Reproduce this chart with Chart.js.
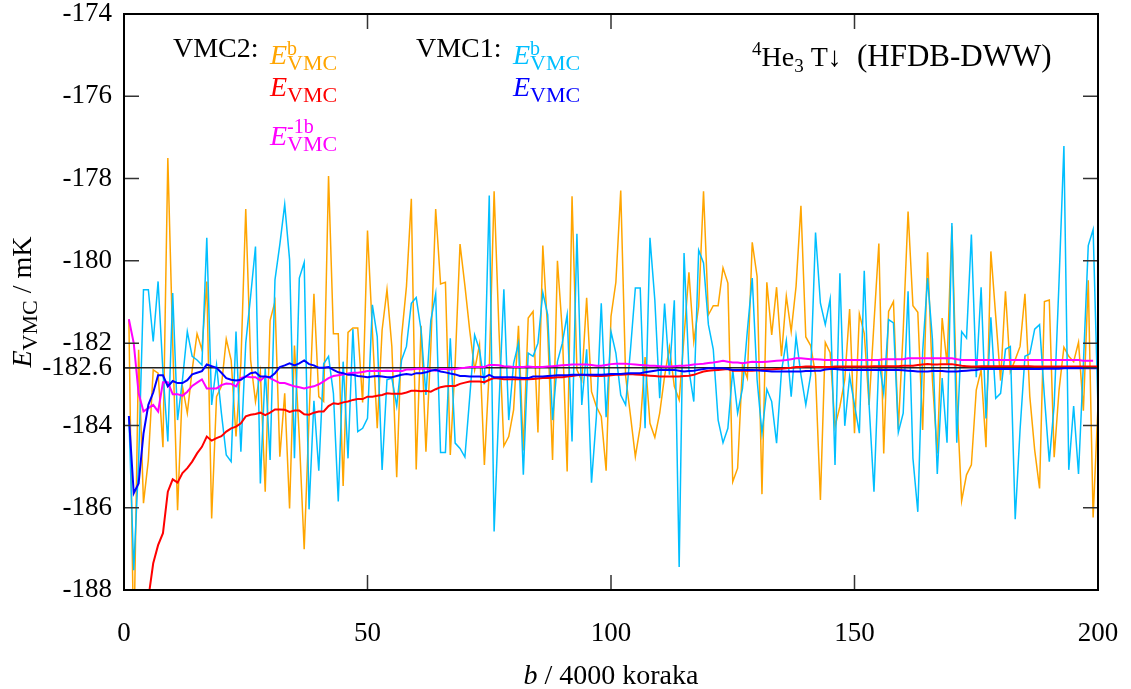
<!DOCTYPE html>
<html>
<head>
<meta charset="utf-8">
<script src="https://cdn.jsdelivr.net/npm/chart.js@4.4.1/dist/chart.umd.min.js"></script>
<style>
  html, body { margin: 0; padding: 0; background: #fff; }
  #wrap { width: 1131px; height: 689px; }
</style>
</head>
<body>
<div id="wrap"><canvas id="energyChart" width="1131" height="689"></canvas></div>
<script>
'use strict';

// x ticks and y ticks (b / 4000 koraka, E / mK)
var xTicks = [0, 50, 100, 150, 200];
var yTicks = [-174, -176, -178, -180, -182, -182.6, -184, -186, -188];
var refLevel = -182.6;

// VMC2 E^b (orange), starts at b = 1
var vmc2Block = [
  -181.42, -189.5, -182.16, -185.89, -184.84, -182.65, -182.73, -184.53, -177.50, -182.0,
  -186.06, -183.05, -183.70, -182.65, -181.77, -182.16, -180.50, -186.26, -183.30, -183.05,
  -181.90, -182.41, -184.27, -182.5, -178.74, -182.41, -183.42, -182.7, -185.61, -181.45,
  -180.99, -184.76, -183.22, -186.02, -182.06, -184.3, -187.01, -183.8, -180.80, -183.30,
  -183.42, -177.94, -181.77, -181.77, -185.47, -181.74, -181.63, -181.63, -183.44, -179.26,
  -181.7, -184.07, -181.68, -180.70, -182.08, -185.26, -181.84, -180.62, -178.49, -185.07,
  -181.58, -184.64, -182.1, -178.74, -180.56, -180.52, -184.72, -182.5, -179.59, -180.6,
  -181.7, -182.65, -182.04, -184.96, -182.65, -178.31, -181.7, -184.50, -184.27, -183.62,
  -181.58, -184.61, -181.39, -181.23, -184.17, -179.63, -181.7, -184.84, -180.00, -181.7,
  -185.12, -178.43, -182.65, -182.91, -180.90, -183.18, -183.54, -183.78, -185.10, -181.35,
  -180.52, -178.29, -182.8, -183.76, -184.76, -184.03, -182.34, -183.95, -184.29, -183.70,
  -182.81, -182.10, -183.05, -183.38, -181.84, -180.28, -181.96, -181.11, -178.31, -181.31,
  -181.09, -181.09, -180.17, -180.54, -185.37, -185.04, -182.53, -182.85, -179.55, -180.38,
  -185.67, -180.52, -181.80, -180.64, -182.32, -180.86, -181.72, -180.62, -178.66, -181.85,
  -182.06, -182.77, -185.81, -181.98, -182.23, -184.03, -183.54, -182.89, -181.17, -184.19,
  -181.29, -181.76, -183.50, -181.51, -179.58, -184.68, -181.23, -180.99, -184.09, -181.7,
  -178.80, -181.09, -181.25, -184.11, -179.79, -182.9, -184.68, -181.39, -182.5, -179.16,
  -183.3, -185.83, -185.20, -184.96, -183.14, -182.65, -184.53, -179.77, -181.35, -182.91,
  -180.74, -182.7, -182.4, -182.08, -180.80, -183.3, -184.60, -185.53, -180.99, -180.95,
  -184.77, -183.14, -182.10, -182.32, -182.45, -181.98, -183.64, -180.47, -186.24, -183.5
];

// VMC1 E^b (light blue), starts at b = 1
var vmc1Block = [
  -183.77, -187.52, -184.9, -180.70, -180.70, -181.96, -180.50, -182.7, -184.39, -180.78,
  -183.87, -182.9, -181.72, -182.32, -182.41, -182.53, -179.44, -183.50, -182.53, -183.70,
  -184.72, -184.88, -181.72, -184.64, -182.00, -180.86, -179.65, -185.41, -182.61, -184.84,
  -180.46, -179.6, -178.63, -179.97, -184.80, -180.42, -180.04, -186.04, -183.40, -185.10,
  -182.5, -182.32, -183.22, -185.85, -182.45, -184.80, -181.66, -184.15, -184.07, -183.83,
  -181.07, -181.84, -185.08, -182.89, -182.85, -183.53, -182.41, -182.08, -181.03, -180.89,
  -181.68, -183.26, -181.45, -180.80, -184.66, -184.66, -181.88, -184.43, -184.56, -184.77,
  -183.30, -181.80, -182.16, -183.0, -178.41, -186.58, -183.5, -180.69, -183.87, -182.49,
  -182.0, -185.20, -182.24, -182.32, -182.00, -180.77, -181.31, -183.87, -182.45, -182.00,
  -181.31, -184.39, -179.34, -183.50, -182.15, -185.39, -183.78, -181.03, -183.80, -181.72,
  -182.24, -183.26, -183.50, -182.16, -180.66, -180.66, -184.07, -179.44, -180.95, -183.34,
  -181.04, -182.77, -180.96, -187.44, -179.81, -182.65, -183.42, -179.74, -180.05, -181.55,
  -182.15, -183.87, -184.42, -184.07, -182.65, -183.70, -183.1, -181.7, -180.42, -182.89,
  -184.19, -183.12, -183.42, -184.43, -182.69, -181.94, -183.30, -181.84, -182.77, -183.50,
  -182.77, -179.31, -181.03, -181.55, -180.93, -184.96, -180.30, -184.01, -182.81, -183.5,
  -184.19, -180.24, -183.50, -185.61, -182.41, -183.22, -181.43, -181.51, -184.17, -183.70,
  -180.74, -184.80, -186.10, -182.2, -180.42, -181.9, -185.18, -182.85, -184.42, -179.08,
  -184.42, -181.72, -181.88, -179.36, -182.83, -180.64, -183.83, -181.37, -183.34, -183.22,
  -182.15, -182.08, -186.28, -184.1, -182.32, -182.26, -181.66, -181.55, -183.3, -184.88,
  -183.5, -180.5, -177.21, -185.08, -183.53, -185.18, -182.5, -179.63, -179.24, -183.6
];

// VMC2 E (red), starts at b = 3
var vmc2Energy = [
  -191.0, -189.4,
  -188.2, -187.35, -186.91, -186.62, -185.61, -185.31, -185.39, -185.16, -185.04, -184.88,
  -184.68, -184.52, -184.27, -184.37, -184.31, -184.26, -184.15, -184.07, -184.03, -183.95,
  -183.78, -183.74, -183.72, -183.69, -183.75, -183.69, -183.61, -183.61, -183.62, -183.67,
  -183.64, -183.64, -183.73, -183.74, -183.69, -183.66, -183.66, -183.53, -183.46, -183.48,
  -183.44, -183.42, -183.38, -183.36, -183.36, -183.30, -183.30, -183.28, -183.26, -183.22,
  -183.23, -183.23, -183.23, -183.20, -183.16, -183.16, -183.17, -183.16, -183.18, -183.12,
  -183.07, -183.05, -183.04, -183.04, -182.99, -182.96, -182.93, -182.93, -182.93, -182.95,
  -182.89, -182.85, -182.86, -182.88, -182.88, -182.88, -182.88, -182.88, -182.88, -182.87,
  -182.86, -182.85, -182.85, -182.84, -182.83, -182.83, -182.81, -182.80, -182.78, -182.77,
  -182.78, -182.79, -182.80, -182.80, -182.79, -182.78, -182.77, -182.77, -182.76, -182.75,
  -182.76, -182.77, -182.78, -182.79, -182.80, -182.81, -182.81, -182.81, -182.81, -182.81,
  -182.80, -182.79, -182.77, -182.73, -182.69, -182.67, -182.66, -182.65, -182.64, -182.63,
  -182.67, -182.67, -182.67, -182.67, -182.67, -182.66, -182.65, -182.64, -182.64, -182.63,
  -182.62, -182.61, -182.60, -182.58, -182.58, -182.57, -182.57, -182.58, -182.58, -182.58,
  -182.58, -182.57, -182.57, -182.57, -182.57, -182.57, -182.57, -182.57, -182.57, -182.56,
  -182.56, -182.56, -182.56, -182.56, -182.56, -182.55, -182.55, -182.55, -182.53, -182.52,
  -182.51, -182.52, -182.52, -182.51, -182.51, -182.51, -182.53, -182.55, -182.56, -182.57,
  -182.57, -182.56, -182.56, -182.56, -182.56, -182.56, -182.56, -182.56, -182.56, -182.56,
  -182.56, -182.56, -182.57, -182.57, -182.57, -182.57, -182.57, -182.57, -182.57, -182.57,
  -182.57, -182.57, -182.57, -182.57, -182.57, -182.57
];

// VMC1 E (blue), starts at b = 1
var vmc1Energy = [
  -183.77, -185.65, -185.41, -184.2, -183.5, -183.2, -182.78, -182.78, -183.05, -182.92,
  -182.97, -182.97, -182.9, -182.76, -182.72, -182.68, -182.52, -182.56, -182.6, -182.72,
  -182.85, -182.89, -182.91, -182.89, -182.81, -182.73, -182.71, -182.81, -182.81, -182.83,
  -182.73, -182.58, -182.54, -182.49, -182.54, -182.49, -182.42, -182.51, -182.54, -182.60,
  -182.60, -182.58, -182.65, -182.71, -182.73, -182.77, -182.77, -182.80, -182.81, -182.83,
  -182.81, -182.80, -182.81, -182.83, -182.83, -182.80, -182.77, -182.75, -182.77, -182.73,
  -182.73, -182.71, -182.67, -182.65, -182.69, -182.71, -182.74, -182.76, -182.80, -182.80,
  -182.81, -182.81, -182.81, -182.83, -182.77, -182.83, -182.83, -182.83, -182.83, -182.83,
  -182.84, -182.85, -182.85, -182.81, -182.81, -182.81, -182.80, -182.79, -182.78, -182.78,
  -182.78, -182.77, -182.77, -182.77, -182.77, -182.77, -182.77, -182.77, -182.76, -182.75,
  -182.75, -182.75, -182.74, -182.73, -182.73, -182.73, -182.71, -182.69, -182.67, -182.65,
  -182.65, -182.65, -182.65, -182.67, -182.69, -182.68, -182.67, -182.65, -182.63, -182.61,
  -182.61, -182.61, -182.61, -182.63, -182.65, -182.65, -182.65, -182.65, -182.65, -182.66,
  -182.67, -182.68, -182.69, -182.69, -182.69, -182.69, -182.69, -182.69, -182.69, -182.68,
  -182.68, -182.67, -182.67, -182.64, -182.63, -182.63, -182.64, -182.65, -182.65, -182.65,
  -182.65, -182.65, -182.65, -182.65, -182.65, -182.65, -182.65, -182.65, -182.65, -182.66,
  -182.67, -182.68, -182.69, -182.69, -182.69, -182.68, -182.68, -182.68, -182.69, -182.69,
  -182.69, -182.68, -182.67, -182.66, -182.65, -182.63, -182.63, -182.63, -182.63, -182.63,
  -182.63, -182.63, -182.63, -182.63, -182.63, -182.63, -182.63, -182.63, -182.62, -182.62,
  -182.62, -182.62, -182.61, -182.61, -182.61, -182.61, -182.61, -182.61, -182.61, -182.61
];

// VMC2 E^-1b (magenta), starts at b = 1
var vmc2Minus = [
  -181.42, -182.0, -183.22, -183.66, -183.58, -183.5, -183.66, -182.95, -182.95, -183.24,
  -183.24, -183.28, -183.18, -183.04, -182.96, -182.88, -183.1, -183.1, -183.1, -183.02,
  -182.98, -182.99, -183.05, -182.85, -182.81, -182.83, -182.83, -182.91, -182.81, -182.85,
  -182.91, -182.97, -182.97, -183.01, -183.05, -183.07, -183.10, -183.07, -183.05, -183.0,
  -182.93, -182.85, -182.80, -182.78, -182.76, -182.74, -182.72, -182.72, -182.70, -182.68,
  -182.68, -182.67, -182.68, -182.67, -182.68, -182.67, -182.68, -182.64, -182.64, -182.62,
  -182.62, -182.62, -182.65, -182.67, -182.63, -182.63, -182.64, -182.63, -182.61, -182.60,
  -182.58, -182.58, -182.58, -182.58, -182.53, -182.53, -182.54, -182.56, -182.57, -182.58,
  -182.58, -182.58, -182.57, -182.58, -182.58, -182.58, -182.57, -182.56, -182.55, -182.54,
  -182.53, -182.52, -182.52, -182.52, -182.52, -182.53, -182.55, -182.55, -182.53, -182.51,
  -182.50, -182.50, -182.50, -182.51, -182.52, -182.53, -182.54, -182.55, -182.55, -182.56,
  -182.57, -182.57, -182.56, -182.55, -182.55, -182.54, -182.52, -182.51, -182.50, -182.48,
  -182.47, -182.45, -182.43, -182.45, -182.47, -182.47, -182.49, -182.47, -182.45, -182.46,
  -182.46, -182.45, -182.44, -182.43, -182.42, -182.41, -182.39, -182.37, -182.37, -182.38,
  -182.39, -182.39, -182.40, -182.41, -182.41, -182.41, -182.41, -182.41, -182.41, -182.41,
  -182.41, -182.41, -182.41, -182.41, -182.41, -182.39, -182.39, -182.39, -182.39, -182.39,
  -182.37, -182.37, -182.37, -182.37, -182.37, -182.37, -182.37, -182.37, -182.37, -182.37,
  -182.39, -182.41, -182.41, -182.41, -182.41, -182.41, -182.41, -182.41, -182.41, -182.41,
  -182.41, -182.41, -182.41, -182.41, -182.41, -182.41, -182.41, -182.41, -182.41, -182.41,
  -182.41, -182.41, -182.41, -182.41, -182.41, -182.41, -182.43, -182.43, -182.43
];

var SERIF = "'Liberation Serif', 'Times New Roman', serif";

function toPoints(values, firstB) {
  return values.map(function(v, i) { return { x: firstB + i, y: v }; });
}

// draws a run of text pieces; pieces with hold=true do not advance (super over sub)
function rich(ctx, x, y, parts) {
  parts.forEach(function(p) {
    ctx.font = (p.i ? 'italic ' : '') + p.s + 'px ' + SERIF;
    ctx.fillStyle = p.c || '#000';
    ctx.fillText(p.t, x, y + (p.dy || 0));
    if (!p.hold) x += ctx.measureText(p.t).width;
  });
  return x;
}

function richWidth(ctx, parts) {
  var w = 0;
  parts.forEach(function(p) {
    ctx.font = (p.i ? 'italic ' : '') + p.s + 'px ' + SERIF;
    if (!p.hold) w += ctx.measureText(p.t).width;
  });
  return w;
}

// keep the plot frame where the layout padding puts it
function noOverhang(scale) {
  scale.paddingTop = 0;
  scale.paddingBottom = 0;
  scale.paddingLeft = 0;
  scale.paddingRight = 0;
}

var frame = {
  id: 'frame',
  afterDraw: function(chart) {
    var ctx = chart.ctx;
    var a = chart.chartArea;
    var xs = chart.scales.x;
    var ys = chart.scales.y;
    var tl = 15;

    ctx.save();
    ctx.strokeStyle = '#333';
    ctx.lineWidth = 1.5;
    ctx.beginPath();
    yTicks.forEach(function(v) {
      var py = ys.getPixelForValue(v);
      ctx.moveTo(a.left, py); ctx.lineTo(a.left + tl, py);
      ctx.moveTo(a.right, py); ctx.lineTo(a.right - tl, py);
    });
    xTicks.forEach(function(v) {
      var px = xs.getPixelForValue(v);
      ctx.moveTo(px, a.bottom); ctx.lineTo(px, a.bottom - tl);
      ctx.moveTo(px, a.top); ctx.lineTo(px, a.top + tl);
    });
    ctx.stroke();

    ctx.strokeStyle = '#000';
    ctx.lineWidth = 2;
    ctx.strokeRect(a.left, a.top, a.right - a.left, a.bottom - a.top);

    ctx.textAlign = 'left';
    ctx.textBaseline = 'alphabetic';

    // key
    rich(ctx, 173, 57, [{ t: 'VMC2:', s: 28 }]);
    rich(ctx, 270, 64, [
      { t: 'E', s: 28, i: true, c: '#ffa500' },
      { t: 'b', s: 20, dy: -9, c: '#ffa500', hold: true },
      { t: 'VMC', s: 22, dy: 6, c: '#ffa500' }
    ]);
    rich(ctx, 270, 96, [
      { t: 'E', s: 28, i: true, c: '#ff0000' },
      { t: 'VMC', s: 22, dy: 6, c: '#ff0000' }
    ]);
    rich(ctx, 270, 145, [
      { t: 'E', s: 28, i: true, c: '#ff00ff' },
      { t: '-1b', s: 20, dy: -12, c: '#ff00ff', hold: true },
      { t: 'VMC', s: 22, dy: 6, c: '#ff00ff' }
    ]);
    rich(ctx, 416, 57, [{ t: 'VMC1:', s: 28 }]);
    rich(ctx, 513, 64, [
      { t: 'E', s: 28, i: true, c: '#00bfff' },
      { t: 'b', s: 20, dy: -9, c: '#00bfff', hold: true },
      { t: 'VMC', s: 22, dy: 6, c: '#00bfff' }
    ]);
    rich(ctx, 513, 96, [
      { t: 'E', s: 28, i: true, c: '#0000ff' },
      { t: 'VMC', s: 22, dy: 6, c: '#0000ff' }
    ]);
    rich(ctx, 752, 66, [
      { t: '4', s: 19, dy: -11 },
      { t: 'He', s: 28 },
      { t: '3', s: 19, dy: 6 },
      { t: ' T\u2193', s: 28 }
    ]);
    rich(ctx, 857, 66, [{ t: '(HFDB-DWW)', s: 31 }]);

    // x title
    var xt = [{ t: 'b', s: 28, i: true }, { t: ' / 4000 koraka', s: 28 }];
    rich(ctx, (a.left + a.right) / 2 - richWidth(ctx, xt) / 2, 684, xt);

    // y title
    var yt = [{ t: 'E', s: 28, i: true }, { t: 'VMC', s: 22, dy: 6 }, { t: ' / mK', s: 28 }];
    ctx.translate(31, (a.top + a.bottom) / 2);
    ctx.rotate(-Math.PI / 2);
    rich(ctx, -richWidth(ctx, yt) / 2, 0, yt);
    ctx.restore();
  }
};

var tickFont = { family: SERIF, size: 27, lineHeight: 1 };

var config = {
  type: 'line',
  data: {
    datasets: [
      { data: toPoints(vmc2Block, 1), borderColor: '#ffa500', borderWidth: 1.5, order: 6 },
      { data: toPoints(vmc1Block, 1), borderColor: '#00bfff', borderWidth: 1.5, order: 5 },
      { data: [{ x: 0, y: refLevel }, { x: 200, y: refLevel }], borderColor: '#222', borderWidth: 1.5, order: 4 },
      { data: toPoints(vmc2Minus, 1), borderColor: '#ff00ff', borderWidth: 2, order: 3 },
      { data: toPoints(vmc2Energy, 3), borderColor: '#ff0000', borderWidth: 2, order: 2 },
      { data: toPoints(vmc1Energy, 1), borderColor: '#0000ff', borderWidth: 2, order: 1 }
    ]
  },
  options: {
    responsive: false,
    animation: false,
    events: [],
    layout: { padding: { top: 14, right: 33, left: 0, bottom: 0 } },
    elements: { point: { radius: 0 }, line: { tension: 0, fill: false } },
    plugins: { legend: { display: false }, tooltip: { enabled: false } },
    scales: {
      x: {
        type: 'linear',
        min: 0, max: 200,
        grid: { display: false, drawTicks: false },
        border: { display: false },
        afterBuildTicks: function(scale) {
          scale.ticks = xTicks.map(function(v) { return { value: v }; });
        },
        afterFit: function(scale) { scale.height = 99; noOverhang(scale); },
        ticks: {
          color: '#000', font: tickFont, padding: 30, maxRotation: 0,
          callback: function(v) { return String(v); }
        }
      },
      y: {
        type: 'linear',
        min: -188, max: -174,
        grid: { display: false, drawTicks: false },
        border: { display: false },
        afterBuildTicks: function(scale) {
          scale.ticks = yTicks.map(function(v) { return { value: v }; });
        },
        afterFit: function(scale) { scale.width = 124; noOverhang(scale); },
        ticks: {
          color: '#000', font: tickFont, padding: 12, autoSkip: false,
          callback: function(v) { return String(v); }
        }
      }
    }
  },
  plugins: [frame]
};

var ctx = document.getElementById('energyChart').getContext('2d');
var energyChart = new Chart(ctx, config);
</script>
</body>
</html>
